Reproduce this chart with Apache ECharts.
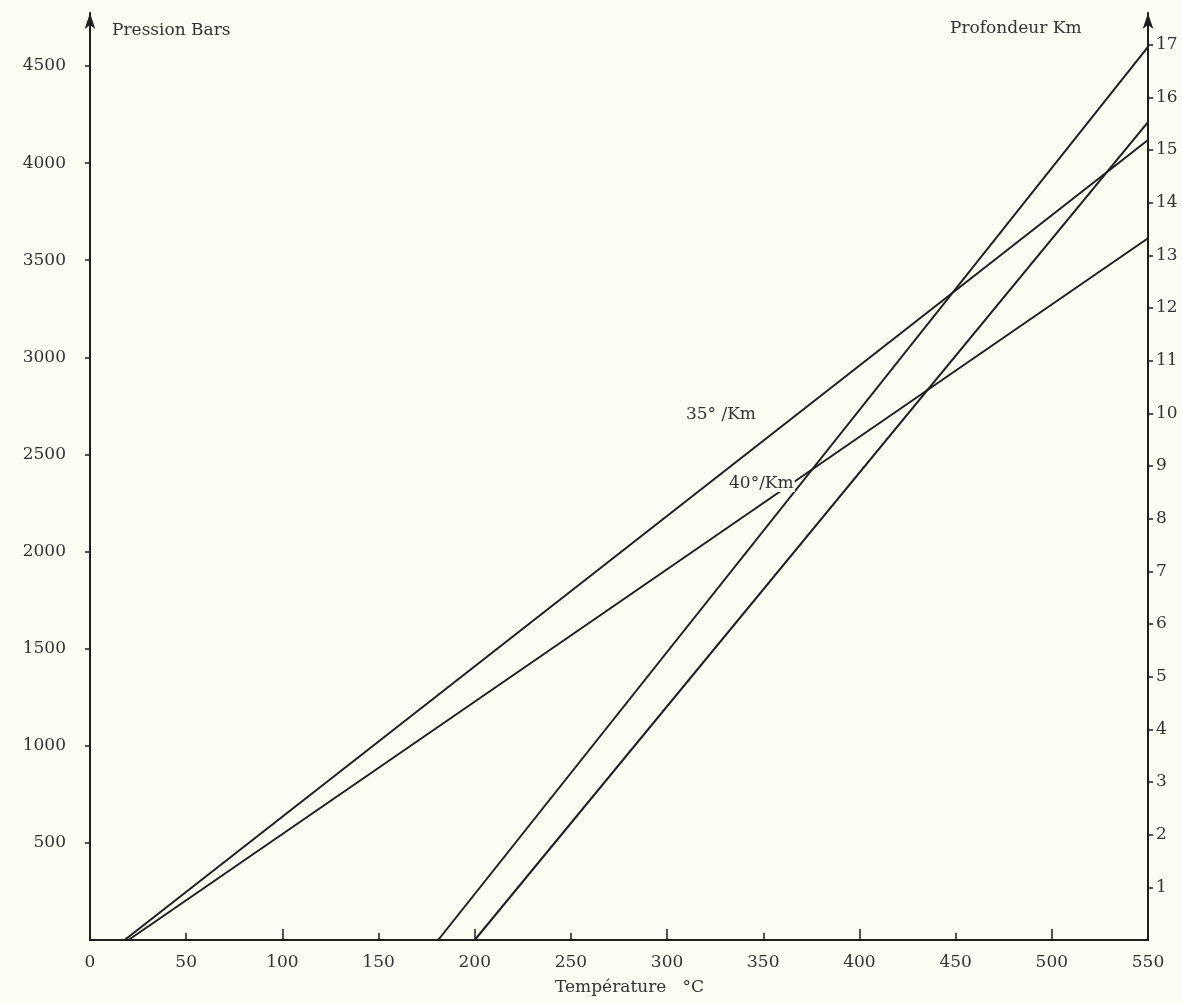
<!DOCTYPE html>
<html><head><meta charset="utf-8">
<script src="https://cdn.jsdelivr.net/npm/echarts@6/dist/echarts.min.js"></script>
<style>html,body{margin:0;padding:0;background:#fcfcf5}#c{width:1182px;height:1003px}</style>
</head><body><div id="c"></div>
<script>
// Data (temperature °C, pressure bars)
const line35 = [[18, 0], [550, 4119]];      // 35°/Km gradient
const line40 = [[20, 0], [550, 3613]];      // 40°/Km gradient
const lineC  = [[181, 0], [550, 4598]];
const lineD  = [[200, 0], [550, 4211]];
const gradientLabels = [
  { text: '35° /Km', value: [328, 2706] },
  { text: '40°/Km',  value: [349, 2350] }
];
const xTickLabels = [0, 50, 100, 150, 200, 250, 300, 350, 400, 450, 500, 550];
const xMajorTicks = [100, 200, 300, 400, 500];
const xMinorTicks = [50, 150, 250, 350, 450];
const pressureTicks = [500, 1000, 1500, 2000, 2500, 3000, 3500, 4000, 4500];
const depthTicks = [1,2,3,4,5,6,7,8,9,10,11,12,13,14,15,16,17];
const pressureMax = 4773;
const barsPerKm = 271.2;

const FONT = 'DejaVu Serif';
const TXT = '#333333';
const INK = '#1e1e1e';
const BG = '#fcfcf5';

const chart = echarts.init(document.getElementById('c'));
const lineSeries = (d) => ({
  type: 'line', data: d, xAxisIndex: 0, yAxisIndex: 0, symbol: 'none',
  lineStyle: { color: INK, width: 2 }, z: 2, silent: true
});
const plain = v => String(v);
chart.setOption({
  backgroundColor: BG,
  animation: false,
  grid: { left: 90, right: 34, top: 13, bottom: 63, containLabel: false },
  xAxis: [{
    type: 'value', min: 0, max: 550, position: 'bottom',
    axisLine: { show: true, onZero: false, lineStyle: { color: INK, width: 2 } },
    axisTick: { show: true, inside: true, length: 11, customValues: xMajorTicks, lineStyle: { color: INK, width: 1.5 } },
    axisLabel: { customValues: xTickLabels, margin: 14, fontFamily: FONT, fontSize: 17, color: TXT, formatter: plain },
    splitLine: { show: false }
  }, {
    type: 'value', min: 0, max: 550, position: 'bottom',
    axisLine: { show: false, onZero: false },
    axisTick: { show: true, inside: true, length: 7, customValues: xMinorTicks, lineStyle: { color: INK, width: 1.5 } },
    axisLabel: { show: false },
    splitLine: { show: false }
  }],
  yAxis: [{
    type: 'value', min: 0, max: pressureMax, position: 'left',
    axisLine: { show: true, onZero: false, symbol: ['none', 'arrow'], symbolSize: [8, 16], lineStyle: { color: INK, width: 2 } },
    axisTick: { show: true, length: 5, customValues: pressureTicks, lineStyle: { color: INK, width: 1.5 } },
    axisLabel: { customValues: pressureTicks, margin: 24, fontFamily: FONT, fontSize: 17, color: TXT, formatter: plain },
    splitLine: { show: false }
  }, {
    type: 'value', min: 0, max: pressureMax / barsPerKm, position: 'right',
    axisLine: { show: true, onZero: false, symbol: ['none', 'arrow'], symbolSize: [8, 16], lineStyle: { color: INK, width: 2 } },
    axisTick: { show: true, length: 5, customValues: depthTicks, lineStyle: { color: INK, width: 1.5 } },
    axisLabel: { customValues: depthTicks, margin: 8, fontFamily: FONT, fontSize: 17, color: TXT, formatter: plain },
    splitLine: { show: false }
  }],
  graphic: [
    { type: 'text', left: 112, top: 22, style: { text: 'Pression Bars', font: '17px "DejaVu Serif"', fill: TXT } },
    { type: 'text', left: 950, top: 20, style: { text: 'Profondeur Km', font: '17px "DejaVu Serif"', fill: TXT } },
    { type: 'text', left: 555, top: 979, style: { text: 'Température   °C', font: '17px "DejaVu Serif"', fill: TXT } }
  ],
  series: [
    lineSeries(line35), lineSeries(line40), lineSeries(lineC), lineSeries(lineD),
    {
      type: 'scatter', xAxisIndex: 0, yAxisIndex: 0, symbolSize: 0, z: 5, silent: true,
      itemStyle: { opacity: 1 },
      data: gradientLabels.map(g => ({ value: g.value, name: g.text })),
      label: { show: true, position: 'inside', formatter: p => p.name, fontFamily: FONT, fontSize: 17, color: TXT,
               opacity: 1, backgroundColor: BG, padding: [0, 1] }
    }
  ]
});
</script></body></html>
